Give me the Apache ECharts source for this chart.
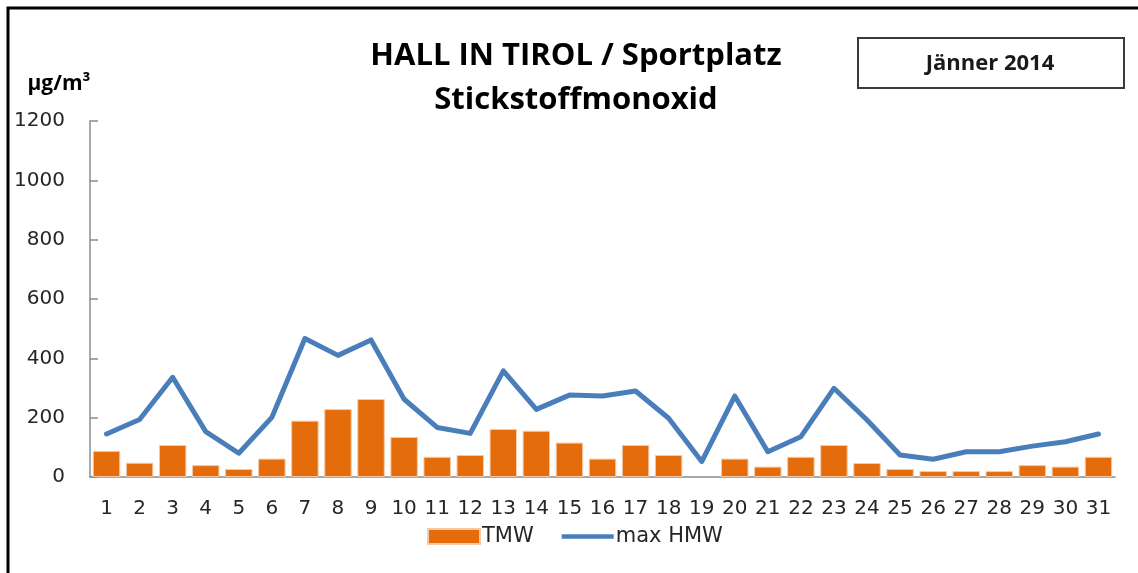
<!DOCTYPE html>
<html>
<head>
<meta charset="utf-8">
<script src="https://cdn.jsdelivr.net/npm/echarts@6/dist/echarts.min.js"></script>
<style>
  html, body { margin: 0; padding: 0; background: #fff; }
  #chart { width: 1138px; height: 573px; }
</style>
</head>
<body>
<div id="chart"></div>
<script>
// Daily NO values, Hall in Tirol / Sportplatz, January 2014 (µg/m³)
const days = ['1','2','3','4','5','6','7','8','9','10','11','12','13','14','15','16','17','18','19','20','21','22','23','24','25','26','27','28','29','30','31'];
// daily mean (TMW); day 19 has no valid mean
const tmw = [88, 48, 108, 40, 27, 62, 190, 229, 263, 135, 68, 74, 162, 156, 116, 62, 108, 74, null, 62, 35, 68, 108, 47, 27, 20, 20, 20, 40, 35, 68];
// maximum half-hour mean (max HMW)
const maxHmw = [145, 194, 336, 153, 80, 201, 467, 410, 462, 262, 167, 147, 358, 228, 276, 273, 290, 198, 52, 273, 85, 136, 299, 192, 74, 60, 85, 85, 104, 119, 145];
const yTicks = { min: 0, max: 1200, interval: 200 };

const chart = echarts.init(document.getElementById('chart'), null, { renderer: 'canvas' });
const tickFont = 'DejaVu Sans';

chart.setOption({
  animation: false,
  backgroundColor: '#ffffff',
  grid: { left: 90, right: 23, top: 121, height: 356, containLabel: false },
  xAxis: {
    type: 'category',
    data: days,
    axisLine: { lineStyle: { color: '#8c8c8c', width: 1.5 } },
    axisTick: { show: false },
    axisLabel: { color: '#262626', fontFamily: tickFont, fontSize: 20, margin: 22, interval: 0 }
  },
  yAxis: {
    type: 'value',
    min: yTicks.min, max: yTicks.max, interval: yTicks.interval,
    axisLine: { show: true, lineStyle: { color: '#8c8c8c', width: 1.5 } },
    axisTick: { show: true, inside: true, length: 8, lineStyle: { color: '#8c8c8c', width: 1.5 } },
    splitLine: { show: false },
    axisLabel: { color: '#262626', fontFamily: tickFont, fontSize: 20, margin: 25, formatter: v => String(v) }
  },
  legend: {
    left: 422, top: 521,
    itemWidth: 52, itemHeight: 15, itemGap: 28,
    textStyle: { color: '#262626', fontFamily: tickFont, fontSize: 21, padding: [0, 0, 0, -3] },
    data: [
      { name: 'TMW', icon: 'rect' },
      { name: 'max HMW', icon: 'path://M0,0 L110,0 L110,10 L0,10 Z' }
    ]
  },
  series: [
    {
      name: 'TMW',
      type: 'bar',
      data: tmw,
      barCategoryGap: '17%',
      itemStyle: { color: '#E46C0A', borderColor: '#F6C9A6', borderWidth: 1 }
    },
    {
      name: 'max HMW',
      type: 'line',
      data: maxHmw,
      symbol: 'none',
      showSymbol: false,
      lineStyle: { color: '#4A7EBB', width: 5, join: 'round', cap: 'round' },
      itemStyle: { color: '#4A7EBB' }
    }
  ],
  graphic: [
    {
      type: 'rect', silent: true,
      shape: { x: 8, y: 8, width: 1400, height: 900 },
      style: { fill: 'none', stroke: '#000000', lineWidth: 3 }
    },
    {
      type: 'text', silent: true, x: 576, y: 56,
      style: { text: 'HALL IN TIROL / Sportplatz', fill: '#000', font: 'bold 31px "Open Sans"', textAlign: 'center', textVerticalAlign: 'middle' }
    },
    {
      type: 'text', silent: true, x: 576, y: 100,
      style: { text: 'Stickstoffmonoxid', fill: '#000', font: 'bold 31px "Open Sans"', textAlign: 'center', textVerticalAlign: 'middle' }
    },
    {
      type: 'text', silent: true, x: 59, y: 84,
      style: { text: 'µg/m³', fill: '#000', font: 'bold 21px "Open Sans"', textAlign: 'center', textVerticalAlign: 'middle' }
    },
    {
      type: 'rect', silent: true,
      shape: { x: 858, y: 38, width: 266, height: 50 },
      style: { fill: '#fff', stroke: '#3a3a3a', lineWidth: 2 }
    },
    {
      type: 'text', silent: true, x: 990, y: 64,
      style: { text: 'Jänner 2014', fill: '#1a1a1a', font: 'bold 22px "Open Sans"', textAlign: 'center', textVerticalAlign: 'middle' }
    }
  ]
});
</script>
</body>
</html>
